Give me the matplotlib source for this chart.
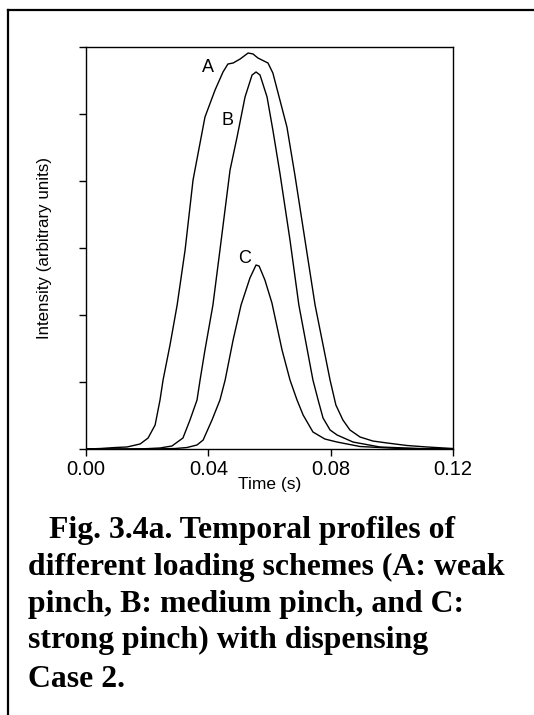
import numpy as np
import matplotlib.pyplot as plt
from matplotlib.lines import Line2D

# profile A (weak pinch)
t_a = [0.000, 0.0046, 0.0095, 0.0134, 0.0177, 0.0203, 0.0226, 0.0242, 0.0252, 0.0275,
       0.0298, 0.0324, 0.0350, 0.0389, 0.0422, 0.0448, 0.0464, 0.0481, 0.0504, 0.0530,
       0.0546, 0.0562, 0.0595, 0.0611, 0.0634, 0.0657, 0.0683, 0.0716, 0.0749, 0.0798,
       0.0817, 0.0840, 0.0863, 0.0896, 0.0938, 0.0984, 0.1050, 0.1115, 0.1200]
i_a = [0.000, 0.007, 0.022, 0.030, 0.075, 0.164, 0.358, 0.731, 1.030, 1.560,
       2.149, 2.970, 4.015, 4.955, 5.358, 5.627, 5.746, 5.761, 5.821, 5.910,
       5.896, 5.836, 5.761, 5.612, 5.209, 4.806, 4.090, 3.119, 2.149, 1.030,
       0.657, 0.433, 0.284, 0.179, 0.119, 0.090, 0.052, 0.030, 0.007]

# profile B (medium pinch)
t_b = [0.000, 0.0144, 0.0193, 0.0242, 0.0281, 0.0317, 0.0340, 0.0363, 0.0373, 0.0389,
       0.0415, 0.0438, 0.0471, 0.0494, 0.0520, 0.0543, 0.0556, 0.0569, 0.0592, 0.0611,
       0.0634, 0.0667, 0.0696, 0.0742, 0.0759, 0.0775, 0.0798, 0.0821, 0.0873, 0.0961,
       0.1092, 0.1200]
i_b = [0.000, 0.000, 0.004, 0.015, 0.045, 0.164, 0.433, 0.731, 1.030, 1.478,
       2.149, 2.970, 4.164, 4.657, 5.254, 5.582, 5.627, 5.582, 5.254, 4.761,
       4.119, 3.119, 2.149, 1.030, 0.731, 0.463, 0.284, 0.209, 0.104, 0.030,
       0.007, 0.000]

# profile C (strong pinch)
t_c = [0.000, 0.0209, 0.0291, 0.0330, 0.0363, 0.0383, 0.0412, 0.0438, 0.0455, 0.0481,
       0.0507, 0.0536, 0.0556, 0.0566, 0.0585, 0.0608, 0.0641, 0.0667, 0.0690, 0.0710,
       0.0742, 0.0781, 0.0821, 0.0896, 0.1027, 0.1200]
i_c = [0.000, 0.000, 0.007, 0.022, 0.060, 0.134, 0.433, 0.731, 1.030, 1.627,
       2.149, 2.552, 2.746, 2.731, 2.522, 2.179, 1.478, 1.030, 0.731, 0.507,
       0.254, 0.149, 0.104, 0.037, 0.007, 0.000]

curve_labels = ['A', 'B', 'C']
label_pos = [(0.0399, 5.69), (0.0464, 4.91), (0.0520, 2.85)]

x_ticks = [0.00, 0.04, 0.08, 0.12]
x_ticklabels = ['0.00', '0.04', '0.08', '0.12']
y_ticks = [0, 1, 2, 3, 4, 5, 6]

caption = ['Fig. 3.4a. Temporal profiles of',
           'different loading schemes (A: weak',
           'pinch, B: medium pinch, and C:',
           'strong pinch) with dispensing',
           'Case 2.']

plt.rcParams['font.family'] = ['Liberation Sans', 'DejaVu Sans']

W, H = 534, 715
fig = plt.figure(figsize=(W / 100, H / 100), dpi=100)
ax = fig.add_axes([86 / W, 1 - 449 / H, 367 / W, 402 / H])

for t, y in [(t_a, i_a), (t_b, i_b), (t_c, i_c)]:
    ax.plot(t, y, color='black', lw=1.0)

for lab, (x, y) in zip(curve_labels, label_pos):
    ax.text(x, y, lab, fontsize=13, ha='center', va='center')

ax.set_xlim(0, 0.12)
ax.set_ylim(0, 6)
ax.set_xticks(x_ticks)
ax.set_xticklabels(x_ticklabels)
ax.set_yticks(y_ticks)
ax.set_yticklabels([])
ax.tick_params(direction='out', length=5, width=1, labelsize=14.5, pad=3)
for s in ax.spines.values():
    s.set_linewidth(1.0)

ax.set_xlabel('Time (s)', fontsize=12.5)
ax.xaxis.set_label_coords(0.5, -0.070)
ax.xaxis.label.set_va('top')
ax.set_ylabel('Intensity (arbitrary units)', fontsize=12.2)
ax.yaxis.set_label_coords(-0.094, 0.5)

# outer frame (left and top edges)
fig.add_artist(Line2D([8 / W, 8 / W], [0, 1 - 10 / H], color='black', lw=1.6,
                      transform=fig.transFigure))
fig.add_artist(Line2D([8 / W, 1], [1 - 10 / H, 1 - 10 / H], color='black', lw=1.6,
                      transform=fig.transFigure))

# caption below the chart
cap_x = [49, 28, 28, 28, 28]
cap_y = [538, 575, 612, 648, 687]
for txt, x, y in zip(caption, cap_x, cap_y):
    fig.text(x / W, 1 - y / H, txt, fontsize=22.9, fontweight='bold',
             family='Liberation Serif', ha='left', va='baseline')

fig.savefig('out.png', dpi=100)
